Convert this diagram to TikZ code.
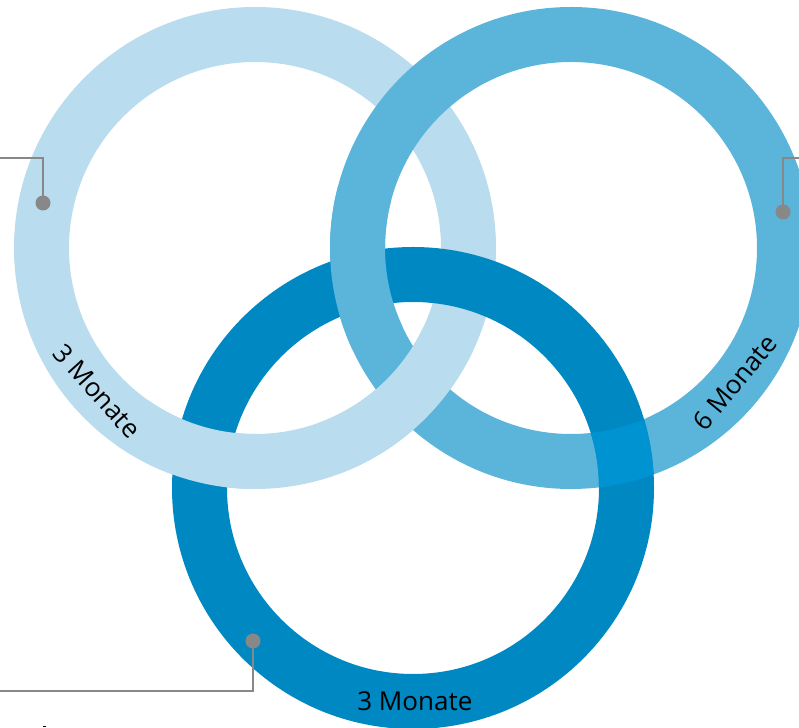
\documentclass[tikz,border=0pt]{standalone}
\usepackage{fontspec}
\newfontfamily\osans{Open Sans}
\definecolor{ringA}{RGB}{185,220,238}
\definecolor{ringB}{RGB}{91,180,218}
\definecolor{ringC}{RGB}{0,136,195}
\definecolor{ringBC}{RGB}{0,147,209}
\definecolor{conn}{RGB}{136,136,136}
\tikzset{
  ring/.style={line width=55pt, line cap=butt},
  lbl/.style={font=\osans\fontsize{26}{29}\selectfont, text=black, inner sep=0pt},
  connline/.style={draw=conn, line width=2pt},
  conndot/.style={circle, fill=conn, minimum size=15pt, inner sep=0pt}
}
\begin{document}
\begin{tikzpicture}[x=1pt,y=1pt]
\useasboundingbox (0,0) rectangle (799,727);
\coordinate (c1) at (255,479);
\coordinate (c2) at (571,479);
\coordinate (c3) at (413,239);
% base rings
\draw[ring, ringA] (c1) circle[radius=213.5];
\draw[ring, ringB] (c2) circle[radius=213.5];
\draw[ring, ringC] (c3) circle[radius=213.5];
% interlacing patches
\draw[ring, ringA] ([shift={(-70:213.5)}]c1) arc[start angle=-70, end angle=-25, radius=213.5];
\draw[ring, ringA] ([shift={(-125:213.5)}]c1) arc[start angle=-125, end angle=-90, radius=213.5];
\draw[ring, ringB] ([shift={(165:213.5)}]c2) arc[start angle=165, end angle=205, radius=213.5];
% blended overlap
\begin{scope}
  \clip (560,207) rectangle (700,347);
  \begin{scope}[even odd rule]
    \clip (c3) circle[radius=241] (c3) circle[radius=186];
    \draw[ring, ringBC] (c2) circle[radius=213.5];
  \end{scope}
\end{scope}
% labels
\node[lbl, rotate=-48] (l1) at ([shift={(-137.8:213)}]c1) {3 Monate};
\node[lbl, rotate=50.5] (l2) at ([shift={(-39.3:212)}]c2) {6 Monate};
\node[lbl] (l3) at ([shift={(-89.5:213)}]c3) {3 Monate};
% connectors
\node[conndot] (d1) at (43,524) {};
\coordinate (e1) at (0,569);
\draw[connline] (e1) -| (d1.center);
\node[conndot] (d2) at (783,515) {};
\coordinate (e2) at (799,569);
\draw[connline] (e2) -| (d2.center);
\node[conndot] (d3) at (253,86) {};
\coordinate (e3) at (0,36);
\draw[connline] (e3) -| (d3.center);
\fill[black] (43,0) rectangle (46,1.5);
\end{tikzpicture}
\end{document}
